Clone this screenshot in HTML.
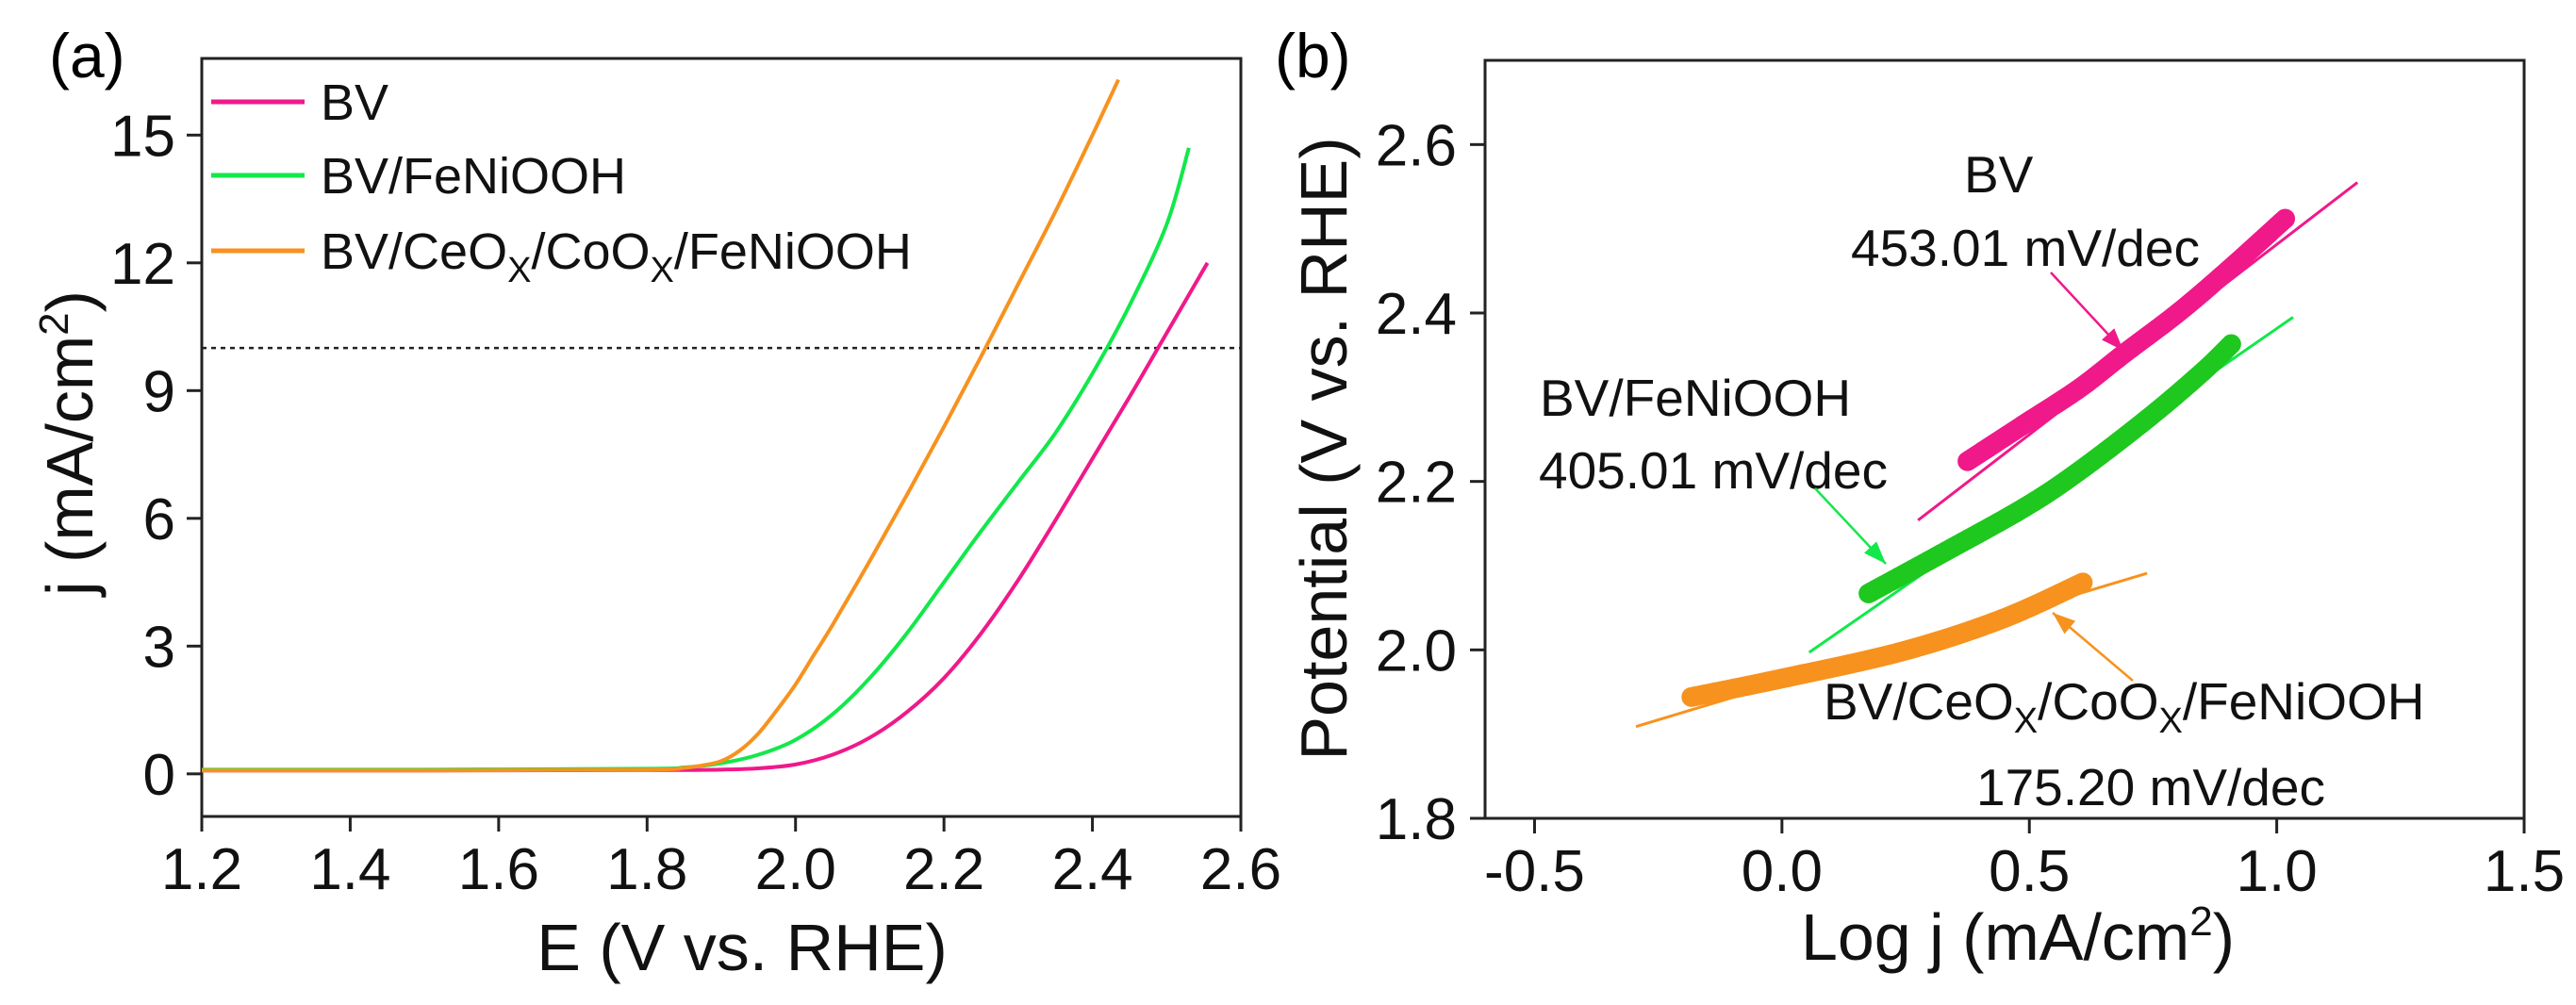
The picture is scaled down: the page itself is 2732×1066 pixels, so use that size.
<!DOCTYPE html>
<html><head><meta charset="utf-8"><style>
html,body{margin:0;padding:0;background:#fff;}
svg{display:block;font-family:"Liberation Sans",Arial,sans-serif;}
</style></head><body>
<svg id="fig" width="2732" height="1066" viewBox="0 0 2732 1066" xmlns="http://www.w3.org/2000/svg">
<g id="pa"></g>
<g id="pb"></g>
</svg>
<script>
// Panel (a) data
const bvE=[1.2,1.5,1.8,1.85,1.9,1.95,2.0,2.05,2.1,2.15,2.2,2.25,2.3,2.35,2.4,2.45,2.5,2.555];
const bvJ=[0.08,0.08,0.09,0.09,0.1,0.13,0.22,0.45,0.85,1.45,2.25,3.3,4.55,5.95,7.4,8.85,10.35,12.0];
const feE=[1.2,1.5,1.8,1.85,1.9,1.95,2.0,2.05,2.1,2.15,2.2,2.25,2.3,2.35,2.4,2.45,2.5,2.53];
const feJ=[0.1,0.1,0.12,0.15,0.25,0.45,0.8,1.4,2.25,3.3,4.5,5.7,6.85,8.0,9.4,11.0,12.9,14.7];
const ceE=[1.2,1.5,1.8,1.85,1.875,1.9,1.925,1.95,1.975,2.0,2.025,2.05,2.1,2.15,2.2,2.25,2.3,2.35,2.4,2.435];
const ceJ=[0.08,0.08,0.1,0.14,0.2,0.3,0.55,0.95,1.5,2.1,2.8,3.5,5.0,6.55,8.15,9.8,11.5,13.2,15.0,16.3];
const aXTicks=[1.2,1.4,1.6,1.8,2.0,2.2,2.4,2.6];
const aYTicks=[0,3,6,9,12,15];
const refJ=10;
// Panel (b) data
const bvLogJ=[0.375,0.49,0.6,0.692,0.8,0.9,1.017];
const bvPot=[2.224,2.268,2.31,2.352,2.40,2.45,2.512];
const feLogJ=[0.175,0.325,0.49,0.6,0.742,0.85,0.908];
const fePot=[2.067,2.115,2.169,2.212,2.276,2.33,2.363];
const ceLogJ=[-0.183,0,0.242,0.442,0.608];
const cePot=[1.944,1.966,1.998,2.036,2.08];
const bvFitX=[0.275,1.163], bvFitY=[2.154,2.555];
const feFitX=[0.055,1.033], feFitY=[1.997,2.395];
const ceFitX=[-0.295,0.738], ceFitY=[1.909,2.091];
const bXTicks=[-0.5,0.0,0.5,1.0,1.5];
const bYTicks=[1.8,2.0,2.2,2.4,2.6];

const NS="http://www.w3.org/2000/svg";
function mk(parent,tag,attrs,text){const e=document.createElementNS(NS,tag);for(const k in attrs)e.setAttribute(k,attrs[k]);if(text!==undefined)e.textContent=text;parent.appendChild(e);return e;}
function smooth(pts){let d="M"+pts[0][0]+","+pts[0][1];for(let i=0;i<pts.length-1;i++){const p0=pts[Math.max(0,i-1)],p1=pts[i],p2=pts[i+1],p3=pts[Math.min(pts.length-1,i+2)];const c1=[p1[0]+(p2[0]-p0[0])/6,p1[1]+(p2[1]-p0[1])/6],c2=[p2[0]-(p3[0]-p1[0])/6,p2[1]-(p3[1]-p1[1])/6];d+=" C"+c1[0]+","+c1[1]+" "+c2[0]+","+c2[1]+" "+p2[0]+","+p2[1];}return d;}

// ---------- Panel A ----------
const pa=document.getElementById('pa');
const aL=214,aR=1316,aT=62,aB=866,aX0=1.2,aX1=2.6,aY0=-1,aY1=16.8;
const ax=v=>aL+(v-aX0)/(aX1-aX0)*(aR-aL);
const ay=v=>aB-(v-aY0)/(aY1-aY0)*(aB-aT);
let t=mk(pa,'text',{x:52,y:82,'font-size':66});t.textContent='(a)';


let r=mk(pa,'rect',{x:aL,y:aT,width:aR-aL,height:aB-aT,fill:'none',stroke:'#222','stroke-width':3});


aXTicks.forEach(v=>{const x=ax(v);const l=mk(pa,'line',{x1:x,y1:aB,x2:x,y2:aB+16,stroke:'#222','stroke-width':3});


const tx=mk(pa,'text',{x:x,y:943,'font-size':62,'text-anchor':'middle',fill:'#111'},v.toFixed(1));

});
aYTicks.forEach(v=>{const y=ay(v);const l=mk(pa,'line',{x1:aL-16,y1:y,x2:aL,y2:y,stroke:'#222','stroke-width':3});


const tx=mk(pa,'text',{x:186,y:y+22,'font-size':62,'text-anchor':'end',fill:'#111'},String(v));

});
let dl=mk(pa,'line',{x1:aL,y1:ay(refJ),x2:aR,y2:ay(refJ),stroke:'#222','stroke-width':2.5,'stroke-dasharray':'5,5'});


[[bvE,bvJ,'#f0198a','curve-bv'],[feE,feJ,'#12e84a','curve-bv-feniooh'],[ceE,ceJ,'#f7921e','curve-bv-ceox-coox-feniooh']].forEach(s=>{
 const pts=s[0].map((e,i)=>[ax(e),ay(s[1][i])]);
 const p=mk(pa,'path',{d:smooth(pts),fill:'none',stroke:s[2],'stroke-width':4,'stroke-linejoin':'round'});
 
 
});
const xt=mk(pa,'text',{x:787,y:1029,'font-size':70,'text-anchor':'middle',fill:'#111'},'E (V vs. RHE)');


const yt=mk(pa,'text',{x:0,y:0,'font-size':70,'text-anchor':'middle',fill:'#111',transform:'translate(98,470) rotate(-90)'});


yt.innerHTML='j (mA/cm<tspan dy="-26" font-size="44">2</tspan><tspan dy="26">)</tspan>';
const leg=[['#f0198a','BV'],['#12e84a','BV/FeNiOOH'],['#f7921e','BV/CeO<tspan dy="14" font-size="38">X</tspan><tspan dy="-14">/CoO</tspan><tspan dy="14" font-size="38">X</tspan><tspan dy="-14">/FeNiOOH</tspan>']];
const legY=[108,186,266];
leg.forEach((g,i)=>{const gg=mk(pa,'g',{});


mk(gg,'line',{x1:224,y1:legY[i],x2:323,y2:legY[i],stroke:g[0],'stroke-width':5});
const tt=mk(gg,'text',{x:340,y:legY[i]+19,'font-size':54,fill:'#111'});tt.innerHTML=g[1];});

// ---------- Panel B ----------
const pb=document.getElementById('pb');
const bL=1575,bR=2677,bT=64,bB=868,bX0=-0.6,bX1=1.5,bY0=1.8,bY1=2.7;
const bx=v=>bL+(v-bX0)/(bX1-bX0)*(bR-bL);
const by=v=>bB-(v-bY0)/(bY1-bY0)*(bB-bT);
t=mk(pb,'text',{x:1352,y:82,'font-size':66},'(b)');


r=mk(pb,'rect',{x:bL,y:bT,width:bR-bL,height:bB-bT,fill:'none',stroke:'#222','stroke-width':3});


bXTicks.forEach(v=>{const x=bx(v);const l=mk(pb,'line',{x1:x,y1:bB,x2:x,y2:bB+16,stroke:'#222','stroke-width':3});


const tx=mk(pb,'text',{x:x,y:945,'font-size':62,'text-anchor':'middle',fill:'#111'},v.toFixed(1));

});
bYTicks.forEach(v=>{const y=by(v);const l=mk(pb,'line',{x1:bL-16,y1:y,x2:bL,y2:y,stroke:'#222','stroke-width':3});


const tx=mk(pb,'text',{x:1545,y:y+22,'font-size':62,'text-anchor':'end',fill:'#111'},v.toFixed(1));

});
function band(xs,ys,col,name){const g=mk(pb,'g',{});


const pts=xs.map((x,i)=>[bx(x),by(ys[i])]);
const guide=mk(g,'path',{d:smooth(pts),fill:'none',stroke:'none'});
const L=guide.getTotalLength();const n=Math.round(L/3);
for(let k=0;k<=n;k++){const p=guide.getPointAtLength(k/n*L);mk(g,'circle',{cx:p.x,cy:p.y,r:8.5,fill:'none',stroke:col,'stroke-width':4});}}
function fit(xs,ys,col,name){const l=mk(pb,'line',{x1:bx(xs[0]),y1:by(ys[0]),x2:bx(xs[1]),y2:by(ys[1]),stroke:col,'stroke-width':3});

}
fit(bvFitX,bvFitY,'#f0198a','fit-line-bv');
fit(feFitX,feFitY,'#12e84a','fit-line-bv-feniooh');
fit(ceFitX,ceFitY,'#f7921e','fit-line-bv-ceox');
band(bvLogJ,bvPot,'#f0198a','tafel-data-bv');
band(feLogJ,fePot,'#1ec81e','tafel-data-bv-feniooh');
band(ceLogJ,cePot,'#f7921e','tafel-data-bv-ceox');
function ann(x,y,html,name){const tt=mk(pb,'text',{x:x,y:y,'font-size':55,fill:'#111'});tt.innerHTML=html;

}
ann(2083,204,'BV','annotation-bv');
ann(1963,282,'453.01 mV/dec','slope-bv');
ann(1633,441,'BV/FeNiOOH','annotation-bv-feniooh');
ann(1632,518,'405.01 mV/dec','slope-bv-feniooh');
ann(1934,763,'BV/CeO<tspan dy="14" font-size="38">X</tspan><tspan dy="-14">/CoO</tspan><tspan dy="14" font-size="38">X</tspan><tspan dy="-14">/FeNiOOH</tspan>','annotation-bv-ceox');
ann(2096,854,'175.20 mV/dec','slope-bv-ceox');
function arrow(x1,y1,x2,y2,col,name){const g=mk(pb,'g',{});


mk(g,'line',{x1:x1,y1:y1,x2:x2,y2:y2,stroke:col,'stroke-width':2.5});
const a=Math.atan2(y2-y1,x2-x1),L=24,W=9;
const p=[[x2,y2],[x2-L*Math.cos(a)+W*Math.sin(a),y2-L*Math.sin(a)-W*Math.cos(a)],[x2-L*Math.cos(a)-W*Math.sin(a),y2-L*Math.sin(a)+W*Math.cos(a)]];
mk(g,'polygon',{points:p.map(q=>q.join(',')).join(' '),fill:col});}
arrow(2175,289,2252,372,'#f0198a','arrow-bv');
arrow(1925,518,2000,598,'#12e84a','arrow-bv-feniooh');
arrow(2262,722,2177,650,'#f7921e','arrow-bv-ceox');
const bxt=mk(pb,'text',{x:2140,y:1018,'font-size':70,'text-anchor':'middle',fill:'#111'});
bxt.innerHTML='Log j (mA/cm<tspan dy="-26" font-size="44">2</tspan><tspan dy="26">)</tspan>';


const byt=mk(pb,'text',{x:0,y:0,'font-size':70,'text-anchor':'middle',fill:'#111',transform:'translate(1428,476) rotate(-90)'},'Potential (V vs. RHE)');


</script>
</body></html>
